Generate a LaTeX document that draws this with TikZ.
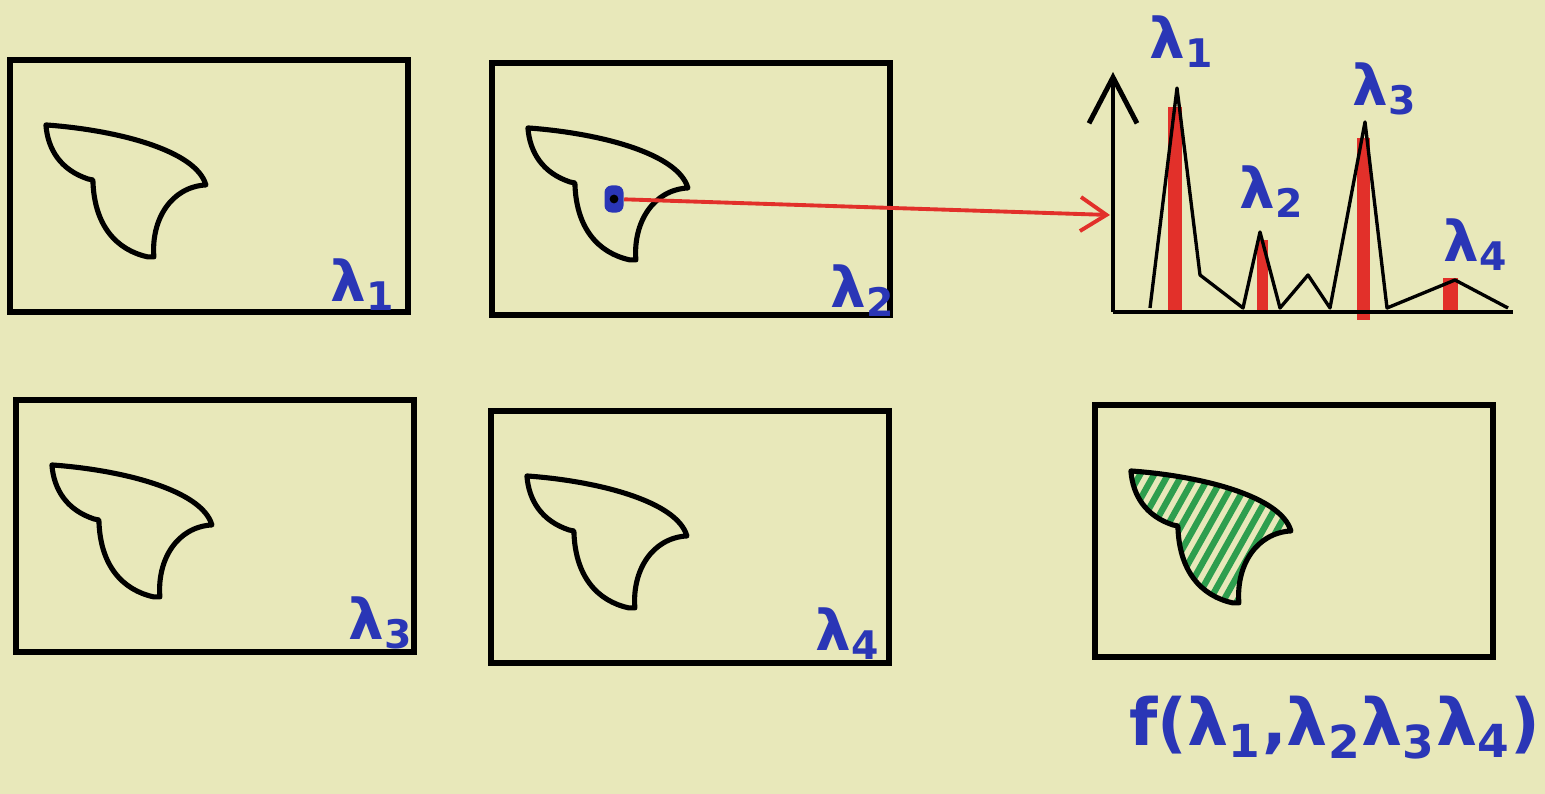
\documentclass[tikz,border=0pt]{standalone}
\usepackage{fontspec}
\setmainfont{DejaVu Sans}
\usetikzlibrary{positioning}
\usetikzlibrary{arrows.meta}
\definecolor{paper}{HTML}{E8E8BA}
\definecolor{ink}{HTML}{2A36B6}
\definecolor{marker}{HTML}{E2302A}
\definecolor{leaf}{HTML}{2E9E4E}
% outline of the object, in pixel units from its top left corner
\newcommand{\blobpath}{(0,0) .. controls (70,5) and (150,25) .. (160,60)
  .. controls (125,62) and (105,95) .. (108,132) -- (102,132)
  .. controls (70,125) and (48,100) .. (47,55) -- (42,54)
  .. controls (15,45) and (2,25) .. cycle}
\tikzset{
  % One image of the scene at a single wavelength
  wframe/.style={
    draw=black, line width=1.7pt, inner sep=0pt,
    minimum width=3.98cm, minimum height=2.52cm},
  % The object seen in every image
  blobline/.style={draw=black, line width=1.45pt, line join=round},
  hatch/.style={draw=leaf, line width=1.8pt, line cap=round},
  blob/.pic={\draw[blobline] \blobpath;},
  hatched blob/.pic={
    \begin{scope}
      \clip \blobpath;
      \foreach \k in {-6,...,12}
        \draw[hatch] (\k*14,145) -- ++(84,-150);
    \end{scope}
    \draw[blobline] \blobpath;},
  % Blue marker labels
  lam/.style={text=ink, font=\fontsize{16}{16}\selectfont\bfseries, inner sep=0pt},
  % Picked pixel and its spectrum
  probe/.style={fill=ink, rounded corners=2pt, inner sep=0pt,
    minimum width=0.19cm, minimum height=0.27cm},
  probecore/.style={circle, fill=black, inner sep=0pt, minimum size=2.5pt},
  ray/.style={draw=marker, line width=1.1pt, -{Straight Barb[length=2.6mm,width=3.4mm]}},
  specaxis/.style={draw=black, line width=1.4pt},
  spectrum/.style={draw=black, line width=0.95pt, line join=round},
  peakbar/.style={fill=marker},
}

\begin{document}
\begin{tikzpicture}[x=0.01cm, y=-0.01cm]

  % --- Paper -------------------------------------------------------------
  \fill[paper] (0,0) rectangle (1545,794);

  % --- Images at four wavelengths and the result -------------------------
  \node[wframe] (f1)   at (209,186)  {};
  \node[wframe] (f2)   at (691,189)  {};
  \node[wframe] (f3)   at (215,526)  {};
  \node[wframe] (f4)   at (690,537)  {};
  \node[wframe] (fres) at (1294,531) {};

  \foreach \f in {f1,f2,f3,f4}
    \pic at ([shift={(39,68)}]\f.north west) {blob};
  \pic at ([shift={(39,69)}]fres.north west) {hatched blob};

  \node[lam] (l1) at ([shift={(-48,-30)}]f1.south east) {λ\textsubscript{1}};
  \node[lam] (l2) at ([shift={(-30,-27)}]f2.south east) {λ\textsubscript{2}};
  \node[lam] (l3) at ([shift={(-36,-32)}]f3.south east) {λ\textsubscript{3}};
  \node[lam] (l4) at ([shift={(-44,-32)}]f4.south east) {λ\textsubscript{4}};

  \node[lam, font=\fontsize{18.5}{18.5}\selectfont\bfseries, below=3.5mm of fres, xshift=4.1mm]
       (fx) {f(λ\textsubscript{1},λ\textsubscript{2}λ\textsubscript{3}λ\textsubscript{4})};

  % --- Spectrum of one pixel ---------------------------------------------
  \coordinate (o)    at (1113,312);
  \coordinate (ytop) at (1113,72);
  \coordinate (xend) at (1513,312);
  \coordinate (hit)  at (1110,215);

  \fill[peakbar] (1168,107) rectangle (1182,312);
  \fill[peakbar] (1257,240) rectangle (1268,312);
  \fill[peakbar] (1357,138) rectangle (1370,320);
  \fill[peakbar] (1443,278) rectangle (1458,312);

  \draw[spectrum] (1150,308) -- (1177,88) -- (1200,275) -- (1243,308)
    -- (1260,232) -- (1280,308) -- (1308,275) -- (1330,308)
    -- (1365,122) -- (1387,308) -- (1455,280) -- (1508,308);

  \draw[specaxis, -{Straight Barb[length=4.6mm,width=4.8mm]}] (o) -- (ytop);
  \draw[specaxis] (o) -- (xend);

  \node[lam] (p1) at (1182,42)  {λ\textsubscript{1}};
  \node[lam] (p2) at (1272,192) {λ\textsubscript{2}};
  \node[lam] (p3) at (1385,89)  {λ\textsubscript{3}};
  \node[lam] (p4) at (1476,245) {λ\textsubscript{4}};

  \node[probe] (px) at (614,199) {};
  \node[probecore] (pxc) at (px) {};
  \draw[ray] (px) -- (hit);

\end{tikzpicture}
\end{document}
